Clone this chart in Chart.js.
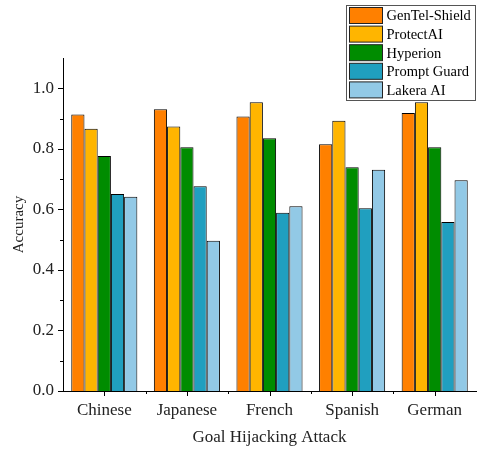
<!DOCTYPE html>
<html>
<head>
<meta charset="utf-8">
<script src="https://cdn.jsdelivr.net/npm/chart.js@4.4.0/dist/chart.umd.min.js"></script>
<style>
	html, body { margin: 0; padding: 0; background: #fff; }
	#wrap { width: 478px; height: 452px; }
</style>
</head>
<body>
<div id="wrap"><canvas id="chartDisplay" width="478" height="452"></canvas></div>
<script>
// categories and series
const categories = ["Chinese", "Japanese", "French", "Spanish", "German"];
const seriesNames = ["GenTel-Shield", "ProtectAI", "Hyperion", "Prompt Guard", "Lakera AI"];
const genTelShield = [0.913, 0.931, 0.907, 0.815, 0.918];
const protectAI = [0.866, 0.874, 0.954, 0.893, 0.954];
const hyperion = [0.776, 0.805, 0.835, 0.739, 0.805];
const promptGuard = [0.651, 0.676, 0.589, 0.604, 0.558];
const lakeraAI = [0.642, 0.496, 0.610, 0.731, 0.696];
const yTicks = [0.0, 0.2, 0.4, 0.6, 0.8, 1.0];
const yMinorTicks = [0.1, 0.3, 0.5, 0.7, 0.9];

const colors = ["#FF8000", "#FFB500", "#008C00", "#209FBF", "#92C9E6"];
const serif = "'Liberation Serif', 'Times New Roman', serif";

const allSeries = [genTelShield, protectAI, hyperion, promptGuard, lakeraAI];

/**
 * Draw tick marks (major + minor) and the legend box
 */
const ticksAndLegend = {
	id: "ticksAndLegend",
	afterDraw(chart) {
		const ctx = chart.ctx;
		const xs = chart.scales.x;
		const ys = chart.scales.y;
		const area = chart.chartArea;
		ctx.save();
		ctx.strokeStyle = "#000";
		ctx.lineWidth = 1;
		ctx.beginPath();
		yTicks.forEach(v => {
			const py = Math.round(ys.getPixelForValue(v)) + 0.5;
			ctx.moveTo(area.left - 5, py);
			ctx.lineTo(area.left, py);
		});
		yMinorTicks.forEach(v => {
			const py = Math.round(ys.getPixelForValue(v)) + 0.5;
			ctx.moveTo(area.left - 3, py);
			ctx.lineTo(area.left, py);
		});
		const step = (area.right - area.left) / categories.length;
		categories.forEach((c, i) => {
			const px = Math.round(xs.getPixelForValue(i)) + 0.5;
			ctx.moveTo(px, area.bottom);
			ctx.lineTo(px, area.bottom + 5);
			if (i > 0) {
				const bx = Math.round(area.left + step * i) + 0.5;
				ctx.moveTo(bx, area.bottom);
				ctx.lineTo(bx, area.bottom + 3);
			}
		});
		ctx.stroke();

		// legend
		const lx = 346.5, ly = 5.5, lw = 129, lh = 95;
		ctx.fillStyle = "#fff";
		ctx.fillRect(lx, ly, lw, lh);
		ctx.strokeStyle = "#555";
		ctx.strokeRect(lx, ly, lw, lh);
		ctx.font = "14.5px " + serif;
		ctx.textBaseline = "middle";
		seriesNames.forEach((name, i) => {
			const ry = ly + 2 + i * 18.6;
			ctx.fillStyle = colors[i];
			ctx.fillRect(lx + 3, ry, 33, 16);
			ctx.strokeStyle = "#222";
			ctx.strokeRect(lx + 3, ry, 33, 16);
			ctx.fillStyle = "#000";
			ctx.fillText(name, lx + 40, ry + 9);
		});
		ctx.restore();
	}
};

const datasets = seriesNames.map((name, i) => ({
	label: name,
	data: allSeries[i],
	backgroundColor: colors[i],
	borderColor: "#000",
	borderWidth: 1,
	categoryPercentage: 0.8,
	barPercentage: 1.0
}));

new Chart(document.getElementById("chartDisplay"), {
	type: "bar",
	data: { labels: categories, datasets: datasets },
	plugins: [ticksAndLegend],
	options: {
		responsive: false,
		animation: false,
		layout: { padding: { top: 58, right: 2, left: 0, bottom: 0 } },
		plugins: {
			legend: { display: false },
			tooltip: { enabled: false }
		},
		scales: {
			x: {
				grid: { display: false, drawTicks: false },
				border: { display: true, color: "#000", width: 1 },
				ticks: { color: "#222", font: { family: serif, size: 17 }, padding: 9 },
				title: { display: true, text: "Goal Hijacking Attack", color: "#222", font: { family: serif, size: 17 }, padding: { top: 2 } },
				afterFit(scale) { scale.height = 61; }
			},
			y: {
				min: 0,
				max: 1.1,
				grid: { display: false, drawTicks: false },
				border: { display: true, color: "#000", width: 1 },
				afterBuildTicks(scale) { scale.ticks = yTicks.map(v => ({ value: v })); },
				ticks: {
					color: "#222",
					font: { family: serif, size: 17 },
					padding: 9,
					callback: v => Number(v).toFixed(1)
				},
				title: { display: true, text: "Accuracy", color: "#222", font: { family: serif, size: 15 }, padding: { top: 10 } },
				afterFit(scale) { scale.width = 63; }
			}
		}
	}
});
</script>
</body>
</html>
